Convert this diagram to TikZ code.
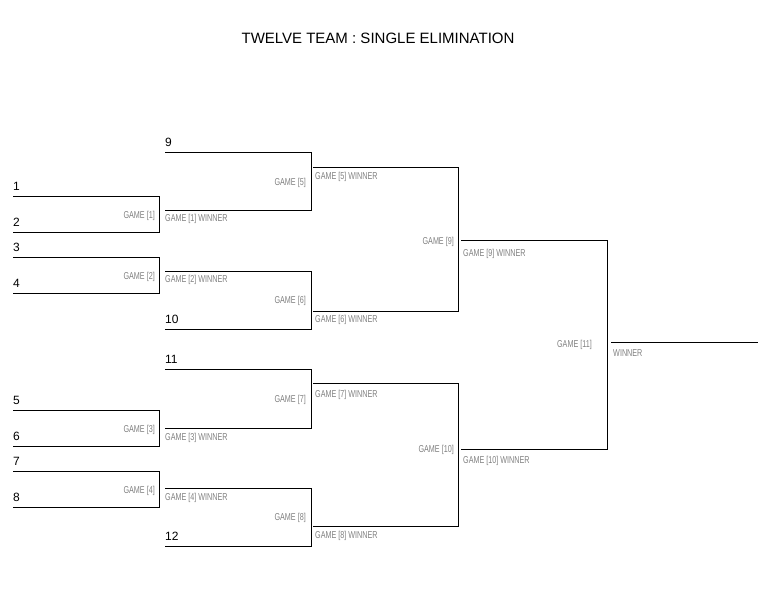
\documentclass[tikz,border=0pt]{standalone}
\usepackage{fontspec}
\setmainfont{Liberation Sans}
\newfontfamily\condf[FakeStretch=0.72]{Liberation Sans}
\begin{document}
\begin{tikzpicture}[x=1pt,y=-1pt,
  br/.style={line width=0.8pt,black},
  num/.style={anchor=base west,inner sep=0pt,font=\fontsize{12}{12}\selectfont},
  gm/.style={anchor=base east,inner sep=0pt,text=black!50,font=\condf\fontsize{10}{10}\selectfont},
  wl/.style={anchor=base west,inner sep=0pt,text=black!50,font=\condf\fontsize{10}{10}\selectfont}]
\useasboundingbox (0,0) rectangle (768,594);
\node[inner sep=0pt,font=\fontsize{15}{15}\selectfont] (title) at (378,38) {TWELVE TEAM : SINGLE ELIMINATION};
% round 1
\foreach \a/\b/\ta/\tb/\g in {196/232/1/2/1,257/293/3/4/2,410/446/5/6/3,471/507/7/8/4}{
  \draw[br] (13,\a) -- (159,\a) -- (159,\b) -- (13,\b);
  \node[num] at (13,\a-6) {\ta};
  \node[num] at (13,\b-6) {\tb};
  \node[gm] at (155,\a+22) {GAME [\g]};
}
% round 2
\draw[br] (165,152) -- (311,152) -- (311,210) -- (165,210);
\node[num] at (165,146) {9};
\node[wl] at (165,221) {GAME [1] WINNER};
\node[gm] at (306,185) {GAME [5]};
\draw[br] (165,271) -- (311,271) -- (311,329) -- (165,329);
\node[wl] at (165,282) {GAME [2] WINNER};
\node[num] at (165,323) {10};
\node[gm] at (306,303) {GAME [6]};
\draw[br] (165,369) -- (311,369) -- (311,428) -- (165,428);
\node[num] at (165,363) {11};
\node[wl] at (165,440) {GAME [3] WINNER};
\node[gm] at (306,402) {GAME [7]};
\draw[br] (165,488) -- (311,488) -- (311,546) -- (165,546);
\node[wl] at (165,500) {GAME [4] WINNER};
\node[num] at (165,540) {12};
\node[gm] at (306,520) {GAME [8]};
% round 3
\draw[br] (313,167) -- (458,167) -- (458,311) -- (313,311);
\node[wl] at (315,179) {GAME [5] WINNER};
\node[wl] at (315,322) {GAME [6] WINNER};
\node[gm] at (454,244) {GAME [9]};
\draw[br] (313,383) -- (458,383) -- (458,526) -- (313,526);
\node[wl] at (315,397) {GAME [7] WINNER};
\node[wl] at (315,538) {GAME [8] WINNER};
\node[gm] at (454,452) {GAME [10]};
% round 4
\draw[br] (461,240) -- (607,240) -- (607,449) -- (461,449);
\node[wl] at (463,256) {GAME [9] WINNER};
\node[wl] at (463,463) {GAME [10] WINNER};
\node[gm] at (592,347) {GAME [11]};
% final
\draw[br] (611,342) -- (758,342);
\node[wl] at (613,356) {WINNER};
\end{tikzpicture}
\end{document}
